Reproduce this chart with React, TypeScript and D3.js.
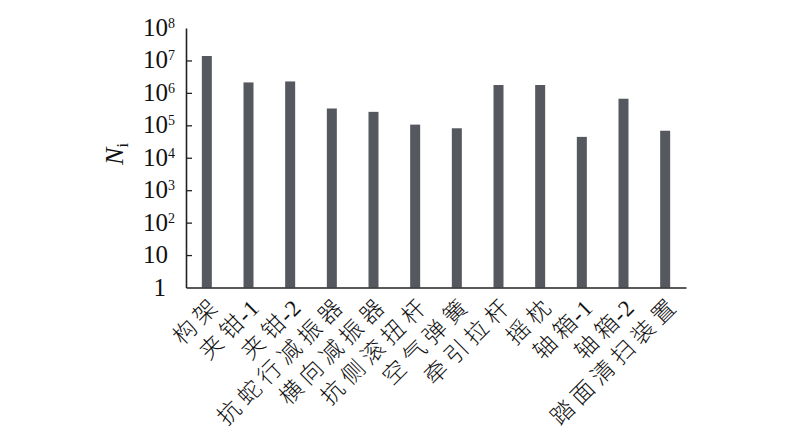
import React, { useEffect, useRef } from 'react';
import { select, scaleLog, scaleBand, axisLeft, axisBottom } from 'd3';

const categories = ['构架', '夹钳-1', '夹钳-2', '抗蛇行减振器', '横向减振器', '抗侧滚扭杆', '空气弹簧', '牵引拉杆', '摇枕', '轴箱-1', '轴箱-2', '踏面清扫装置'];
const values = [1.37e7, 2.1e6, 2.25e6, 3.3e5, 2.6e5, 1.05e5, 8.1e4, 1.75e6, 1.75e6, 4.4e4, 6.6e5, 6.8e4];
const tickValues = [1, 10, 1e2, 1e3, 1e4, 1e5, 1e6, 1e7, 1e8];

const dims = {
  width: 800,
  height: 431,
  left: 186,
  right: 686,
  top: 28,
  bottom: 287.5
};

const serif = '"Liberation Serif", "Times New Roman", serif';
const labelFont = '"Liberation Serif", "Noto Sans CJK SC", serif';
const isCjk = (c: string) => /[\u4e00-\u9fff]/.test(c);

function App() {
  const svgRef = useRef<SVGSVGElement | null>(null);

  useEffect(() => {
    const svg = select(svgRef.current);
    svg.selectAll('*').remove();

    const x = scaleBand()
      .domain(categories)
      .range([dims.left, dims.right])
      .paddingInner(0.76)
      .paddingOuter(0.38);
    const y = scaleLog().domain([1, 1e8]).range([dims.bottom, dims.top]);

    // bars
    svg.append('g')
      .selectAll('rect')
      .data(values)
      .enter()
      .append('rect')
      .attr('x', (d, i) => x(categories[i])!)
      .attr('width', x.bandwidth())
      .attr('y', d => y(d))
      .attr('height', d => dims.bottom - y(d))
      .attr('fill', '#56585f');

    // y axis
    const yAxisG = svg.append('g')
      .attr('transform', `translate(${dims.left},0)`)
      .call(axisLeft(y).tickValues(tickValues).tickSizeInner(-6).tickSizeOuter(0).tickFormat(() => ''));
    yAxisG.select('.domain').attr('stroke', '#222').attr('stroke-width', 1.6);
    yAxisG.selectAll('.tick line').attr('stroke', '#222').attr('stroke-width', 1.3);
    yAxisG.selectAll('.tick').filter((d: any) => d === 1 || d === 1e8).select('line').remove();

    // tick labels: base right-aligned, exponent hanging to the right
    const labelG = svg.append('g')
      .style('font-family', serif)
      .attr('fill', '#111');
    tickValues.forEach(d => {
      const exp = Math.round(Math.log10(d));
      const base = exp <= 1 ? String(d) : '10';
      labelG.append('text')
        .attr('x', exp === 0 ? dims.left - 20 : dims.left - 18)
        .attr('y', y(d) + 8)
        .attr('text-anchor', 'end')
        .style('font-size', '25px')
        .text(base);
      if (exp > 1) {
        labelG.append('text')
          .attr('x', dims.left - 18)
          .attr('y', y(d))
          .style('font-size', '14px')
          .text(String(exp));
      }
    });

    // y title
    svg.append('text')
      .attr('transform', `translate(123,154) rotate(-90)`)
      .attr('text-anchor', 'middle')
      .style('font-family', serif)
      .style('font-size', '26px')
      .attr('fill', '#111')
      .call(t => {
        t.append('tspan').style('font-style', 'italic').text('N');
        t.append('tspan').attr('dy', 5).style('font-size', '16px').text('i');
      });

    // x axis
    const xAxisG = svg.append('g')
      .attr('transform', `translate(0,${dims.bottom})`)
      .call(axisBottom(x).tickSize(0).tickFormat(() => ''));
    xAxisG.select('.domain').attr('stroke', '#222').attr('stroke-width', 1.6);

    // rotated category labels, wide spacing between the CJK glyphs only
    const catG = svg.append('g');
    categories.forEach(cat => {
      const t = catG.append('text')
        .attr('transform', `translate(${x(cat)! + x.bandwidth() / 2 + 12},${dims.bottom + 22}) rotate(-45)`)
        .attr('text-anchor', 'end')
        .style('font-family', labelFont)
        .style('font-size', '23px')
        .style('font-weight', 300)
        .attr('fill', '#111');
      const chars = Array.from(cat);
      chars.forEach((c, i) => {
        const next = chars[i + 1];
        const sp = next === undefined ? 0 : (isCjk(c) && isCjk(next) ? 5.5 : 1);
        t.append('tspan').style('letter-spacing', `${sp}px`).text(c);
      });
    });
  }, []);

  return (
    <div>
      <svg ref={svgRef} width={dims.width} height={dims.height}
        style={{ position: 'absolute', left: 0, top: 0, background: '#fff' }} />
    </div>
  );
}

export default App;
